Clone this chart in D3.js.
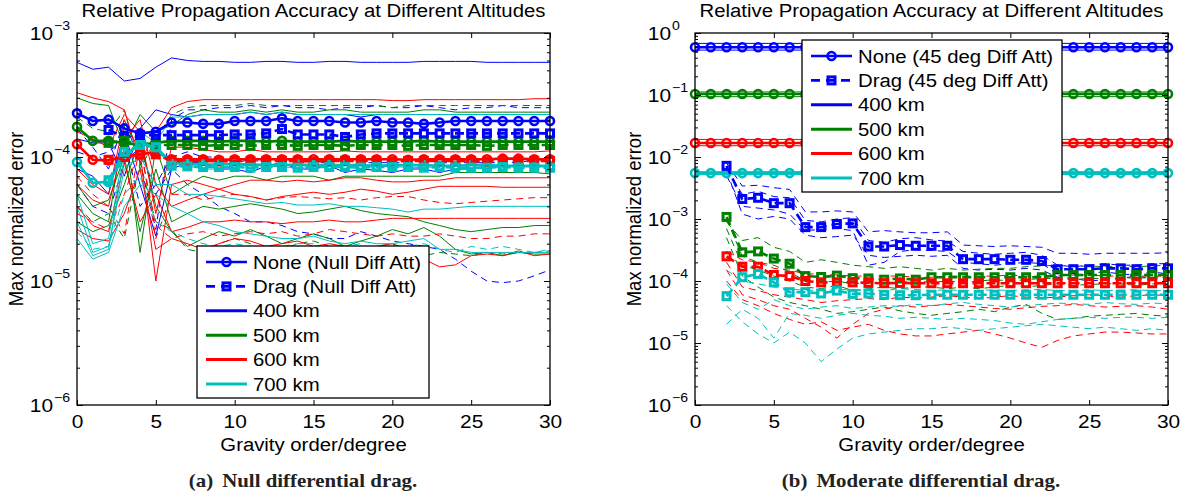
<!DOCTYPE html>
<html>
<head>
<meta charset="utf-8">
<script src="https://cdn.jsdelivr.net/npm/d3@7/dist/d3.min.js"></script>
<style>
  html, body { margin: 0; padding: 0; background: #fff; }
  svg { display: block; }
</style>
</head>
<body>
<svg id="fig" width="1186" height="496"></svg>
<script>
// ---------------------------------------------------------------
// Shared categories
// ---------------------------------------------------------------
const degrees = [0,1,2,3,4,5,6,7,8,9,10,11,12,13,14,15,16,17,18,19,20,21,22,23,24,25,26,27,28,29,30];
const xTicks = [0,5,10,15,20,25,30];
const altitudes = ["400 km","500 km","600 km","700 km"];
const altitudeColors = ["#0000ff","#008000","#ff0000","#00bfbf"];

// ---------------------------------------------------------------
// Panel (a): null differential attitude, values in units of 1e-5
// ---------------------------------------------------------------
const unitA = 1e-5;
const yTicksA = [1e-6,1e-5,1e-4,1e-3];

const noneA400 = [22.5,19.5,20,17,15.5,16, 19,19,18.5,18.5,19.5, 19.5,19.5,20.5,19.5,19.5, 19.5,19,19,19.5,19, 19,18.5,19,19.5,19.5, 19.5,19.5,19.5,19.5,19.5];
const noneA500 = [17.5,13.5,13.5,13,12.5,13, 13.5,13.5,13.5,13.3,13.5, 13.5,13.3,13.5,13.3,13.3, 13.3,13.5,13.3,13.3,13.3, 13.3,13.5,13.3,13.3,13.3, 13.3,13.3,13.3,13.3,13.3];
const noneA600 = [12.7,9.5,9.4,10,10.5,11, 9.6,9.6,9.6,9.5,9.6, 9.6,9.6,9.6,9.6,9.6, 9.6,9.6,9.6,9.6,9.6, 9.5,9.6,9.6,9.6,9.6, 9.6,9.7,9.7,9.6,9.6];
const noneA700 = [9.1,6.2,6.3,10,13,12, 9,8.8,8.7,8.7,8.8, 8.7,8.6,8.6,8.7,8.6, 8.6,8.6,8.6,8.5,8.6, 8.6,8.6,8.5,8.5,8.6, 8.6,8.5,8.5,8.5,8.5];

const dragA400 = [null,null,16.5,14.5,15,15, 15,15,15,15,15.2, 15.2,15.5,16.8,15.2,15.2, 15.2,14.5,15.2,15.5,15.5, 15.5,15.5,15.5,15.5,15.5, 15.5,15.5,15.5,15.5,15.5];
const dragA500 = [null,null,13,13.5,12.5,12.5, 12.5,12.5,12.3,12.5,12.5, 12.3,12.5,12.5,12.3,12.5, 12.5,12.3,12.5,12.5,12.5, 12.3,12.5,12.5,12.5,12.5, 12.3,12.5,12.5,12.5,12.5];
const dragA600 = [null,null,9.5,10,10.5,10.5, 9.3,9.3,9.3,9.2,9.3, 9.3,9.3,9.3,9.3,9.2, 9.3,9.3,9.3,9.3,9.2, 9.3,9.3,9.3,9.3,9.3, 9.2,9.3,9.3,9.3,9.3];
const dragA700 = [null,null,6.5,11,12.5,12, 8.5,8.4,8.3,8.3,8.3, 8.2,8.3,8.3,8.2,8.3, 8.3,8.3,8.2,8.3,8.3, 8.3,8.2,8.3,8.2,8.2, 8.2,8.3,8.2,8.2,8.2];

// individual runs, 400 km
const runA400a = [58,51,53,41,43,53, 63,60,59,59,58, 58,59,59,58,58, 59,59,58,58,58, 58,59,59,59,59, 58,58,58,58,58];
const runA400b = [17,12,8,20,9,2.6, 20,24,24,25,25, 26,25,26,25,25, 24,25,25,26,25, 25,26,25,24,25, 25,26,25,25,25];
const runA400c = [14,13,13,7,17,24, 22,21,22,22,22, 23,22,23,22,22, 22,22,21,22,22, 22,22,22,22,22, 22,22,22,22,22];
const runA400d = [8,7,5,16,6,2.3, 8,9,9,8,8, 7.5,8.5,9,8,8, 8.5,7.5,8,7.8,7.5, 8,8,7.5,8,8, 8.5,8.5,8.5,8.5,8.5];
const runA400e = [6,4,3.5,9,12,5, 8,6,5,4,3.5, 3,3,2.8,2.5,2.4, 2.2,2.2,2.5,2.3,2.1, 2.0,1.9,1.8,1.5,1.2, 1.0,0.97,1.0,1.1,1.23];
const runA400f = [11,10,11,14,4,6, 10,11,10,10,9, 9.5,9,10,9,9, 9,9.5,9,9,9, 9,9.5,9,9,9, 9,9,9,9.5,9.5];
// individual runs, 500 km
const runA500a = [30,27,26,12,22,16, 18,22,24,23,23, 24,23,24,23,23, 24,24,23,23,23, 23,24,24,23,23, 23,23,23,23,23];
const runA500b = [21,17,16,24,8,14, 22,25,26,26,26, 27,26,26,26,26, 26,26,26,26,25, 26,26,26,26,26, 26,26,26,26,26];
const runA500c = [5,3.5,3,18,1.7,12, 5,6,7,6.5,7, 7,6.5,7,7,7, 6.5,7,7,7,7, 7,7,7,7.5,7.5, 7.5,7.5,7.5,7.5,7.3];
const runA500d = [3,2.5,2.8,6,14,4, 2.5,1.9,2.2,2.5,2.3, 2.6,2.3,2.0,2.2,2.4, 2.2,1.9,2.1,2.3,2.6, 2.4,2.7,2.3,1.8,1.65, 1.7,1.6,1.7,1.65,1.65];
const runA500e = [6,4,4.5,10,2.5,8, 3,3.5,4,3.8,4, 4.2,4,3.8,3.5,3.6, 3.8,4,3.7,3.5,3.4, 3.3,3.0,2.8,2.6,2.5, 2.6,2.7,2.7,2.8,2.8];
const runA500f = [4,3,3.5,2.2,9,3, 2.6,1.8,1.7,2.0,2.2, 2.0,1.7,1.8,2.0,2.1, 1.9,1.8,1.7,1.9,2.0, 1.8,1.6,1.7,1.65,1.6, 1.7,1.65,1.7,1.7,1.75];
// individual runs, 600 km
const runA600a = [33,30,28,24,9,16, 25,28,29,29,29, 29,29,29,29,29, 29,29,29,29,28.5, 28.5,29,29,29,29, 29,29,29,29.5,29.5];
const runA600b = [16,14,12,22,16,3.5, 12,12,11.5,11,11, 11.5,11,11,11,11, 11,11.2,11,11,11, 11,11,11,11,11, 11,11,11,11,11.2];
const runA600c = [8,6,5,20,11,1.0, 6,6.5,6,5.5,6, 6.5,6.5,6.3,6.5,6.3, 6.5,6.8,6.8,6.5,6.3, 6.3,6.5,6.5,6.8,6.8, 6.8,6.8,6.8,6.8,6.8];
const runA600d = [6,4.5,4,14,20,6, 4,4.5,5,5.5,5, 4.8,4.5,4.8,5.0,5.2, 5.0,5.2,5.5,5.3,5.0, 5.2,5.5,5.8,5.8,5.8, 5.8,5.7,5.7,5.7,5.7];
const runA600e = [7,5,4,2.4,13,2.2, 5,5,4.5,4.8,5, 4.8,4.5,4.7,4.8,4.7, 4.6,4.7,4.5,4.7,4.8, 4.8,4.5,4.3,4.2,4.3, 4.4,4.5,4.6,4.7,4.7];
const runA600f = [4,2.8,2.5,9,3,5, 2.5,2.7,3,3,3.1, 3.0,3.0,2.9,3.0,3.0, 3.1,3.0,3.0,3.1,3.2, 3.2,3.2,3.2,3.2,3.2, 3.2,3.2,3.2,3.2,3.2];
const runA600g = [3.5,3,2.6,5,12,2.8, 2.2,2.4,2.5,2.3,2.4, 2.5,2.4,2.5,2.3,2.4, 2.6,2.5,2.4,2.3,2.4, 2.3,2.3,2.4,2.3,2.2, 2.2,2.3,2.3,2.4,2.4];
const runA600h = [2.6,2.2,2.1,3.5,8,1.8, 2.2,2.0,1.8,2.0,2.2, 2.1,1.9,2.0,2.1,1.9, 2.0,1.9,1.7,1.9,2.0, 1.6,1.5,1.3,1.35,1.6, 1.65,1.6,1.75,1.6,1.65];
// individual runs, 700 km
const runA700a = [5,2,2.2,12,16,13, 21,21,22,22,22, 23,22,23,22,22, 22,22,22,22,22, 22,22,22,22,22, 22,22,22,22,22];
const runA700b = [4,1.7,1.9,8,10,6, 6,5,5,4.8,4.6, 4.4,4.2,4.3,4.1,4.1, 4.2,4.0,4.0,3.9,3.8, 3.6,3.8,3.8,3.9,4.0, 4.0,4.0,4.0,4.0,4.0];
const runA700c = [3,1.6,1.8,10,14,12, 9,8.5,8,8,8.5, 8.5,8.5,8.3,8.2,8.4, 8.4,8.6,8.5,8.5,8.3, 8.3,8.2,8.4,8.4,8.2, 8.2,8.3,8.3,8.3,8.3];
const runA700d = [2.5,1.8,1.9,5,7,3, 2.5,2.2,2.0,1.9,2.0, 1.9,1.8,1.9,2.0,2.0, 1.8,1.9,2.0,1.7,1.8, 1.9,2.0,1.8,1.7,1.9, 1.8,1.9,1.8,1.7,1.8];
const runA700e = [2.2,1.5,1.7,4,6,5, 4,3.5,3.0,2.8,2.5, 2.4,2.3,2.2,2.2,2.3, 2.1,2.0,2.1,2.0,2.0, 2.1,2.2,1.8,1.8,1.7, 1.7,1.7,1.7,1.7,1.7];

// ---------------------------------------------------------------
// Panel (b): 45 deg differential attitude
// ---------------------------------------------------------------
const unitB = 1e-5;
const yTicksB = [1e-6,1e-5,1e-4,1e-3,1e-2,1e-1,1];

// "None" cases are flat across all degrees (absolute values)
const noneB = [0.59, 0.104, 0.0168, 0.0055];
const noneBHigh = [0.68, 0.112, 0.0192, 0.0058];
const noneBLow = [0.53, 0.094, 0.0152, 0.0052];

// "Drag" cases, units of 1e-5
const dragB400 = [null,null,720,210,220,180,180, 74,74,83,85, 36,36,38,37, 37,37, 22.5,22.5,22.5,22,22,21, 15.5,15.5,15.5,16,16,15.5,16,16];
const dragB500 = [null,null,108,29,30,23,19, 12,11.6,12.2,11.1, 11,10.5,11,10.5, 11.5,11.5,11.5,11.5,11.5,11.5,11.5,11.5, 12.5,12.5,12.5,12.5,12.5,12.5,12.5,12.5];
const dragB600 = [null,null,25,17,17,12.5,12, 10,9.5,9.5,9.5, 9.3,9.2,9.3,9.2, 9.2,9.2,9.2,9.2,9.2,9.2,9.2,9.2, 9.2,9.2,9.2,9.2,9.2,9.2,9.2,9.2];
const dragB700 = [null,null,5.7,11.5,13,9.5,6.6, 6.6,6.3,7.0,6.2, 6.3,6.0,5.9,5.9, 6.0,6.0,6.0,6.0,6.0,6.0,6.0,6.0, 6.0,6.0,6.0,6.0,6.0,6.0,6.0,6.0];

// individual drag runs, units of 1e-5
const runB400a = [null,null,800,340,350,320,300, 130,130,135,130, 62,65,62,60, 60,62, 38,37,36,37,36,35, 28,28,27,28,28,28,28,28.5];
const runB400b = [null,null,600,120,100,110,100, 55,50,52,55, 26,24,25,26, 25,26, 16,15,15.5,15,16,15, 11.5,11,10,10.5,11,12,11,11.5];
const runB400c = [null,null,500,160,150,140,120, 65,68,70,65, 18,20,30,32, 31,30, 20,19,18,19,20,19, 13,12,13.5,14,13,12.5,14,13];
const runB400d = [null,null,650,250,280,230,220, 95,90,100,105, 45,42,48,50, 46,44, 30,28,27,28,29,26, 18,17,18,19,18,18,19,19];
const runB500a = [null,null,90,45,50,35,30, 20,22,20,18, 17,16,17,16, 15,16,15,15.5,16,16,17,17.5, 18,17,17.5,17,17.5,17,17.5,18];
const runB500b = [null,null,70,18,15,12,10, 8,7.5,8.5,7, 7.5,8,7.5,8, 8,7.5,8,7.5,8,8.5,8,8.5, 9,8.5,8.8,9,9,8.5,9,9];
const runB500c = [null,null,50,12,8,5.5,4.5, 4,3.5,3,3.2, 3.5,3.8,3.3,3.0, 2.8,3.0,3.2,3.5,3.2,3.8,4.2,3.0, 2.4,2.5,2.7,2.8,2.9,3.0,2.8,2.7];
const runB500d = [null,null,100,25,20,18,14, 10,9.5,10,9, 9.5,9,9.5,10, 9.5,10,9.5,10,10.5,10,10.5,11, 11,10.5,11,11,11.5,11,11.5,11.5];
const runB600a = [null,null,30,22,20,16,15, 13,13,12.5,12, 12,12,12,11.5, 11.5,12,12,12,12,12.5,12,12, 12,12.5,12.5,12,12,12,12,12];
const runB600b = [null,null,15,6,5,4,3.5, 2.5,1.8,1.2,2.0, 3.0,3.5,4.0,3.8, 4.0,4.2,4.0,3.8,3.6,3.5,3.7,3.9, 4.0,4.2,4.0,3.8,3.9,4.0,3.8,3.5];
const runB600c = [null,null,10,5,4,3,2.4, 2.0,2.2,1.6,1.8, 2.0,1.6,1.4,1.3, 1.3,1.4,1.5,1.6,1.4,1.2,1.0,0.85, 1.1,1.3,1.4,1.5,1.5,1.45,1.4,1.4];
const runB600d = [null,null,20,8,7,6,5.5, 5,4.5,4.8,5, 5.2,5,5.5,5.3, 5.5,5.8,5.5,5.2,5.5,5.8,5.5,5.3, 5.5,5.8,6,5.8,5.5,5.8,6,5.8];
const runB700a = [null,null,15,10,9,8,7.5, 7,7.2,7.5,7, 7.2,7,7.5,7.3, 7,7.2,7,7,7.2,7,7.2,7.3, 7,7,7.2,7,7.1,7.2,7,7];
const runB700b = [null,null,2.0,3.5,2.5,1.2,3.0, 2.8,2.5,2.8,3.0, 2.8,2.7,2.5,2.6, 2.5,2.4,2.5,2.4,2.3,2.1,2.0,2.2, 2.4,2.5,2.6,2.5,2.6,2.6,2.5,2.6];
const runB700c = [null,null,4,2.2,1.4,1.0,1.5, 1.0,0.5,0.8,1.2, 1.4,1.5,1.6,1.7, 1.7,1.8,1.7,1.6,1.7,1.8,1.9,2.0, 1.9,1.8,1.7,1.8,1.7,1.6,1.7,1.6];
const runB700d = [null,null,9,4.5,3.5,5,4, 3.5,3.8,4,3.6, 3.8,4,3.9,4.2, 4,4.3,4.5,4.2,4,3.8,4,4.2, 4.4,4.3,4.2,4.5,4.3,4.2,4.4,4.3];

// ---------------------------------------------------------------
// Drawing
// ---------------------------------------------------------------
const SANS = '"Liberation Sans", Arial, Helvetica, sans-serif';
const SERIF = '"Liberation Serif", "Times New Roman", serif';
const SX = 1.13;          // horizontal text stretch of the exported figure
const TOP = 33, BOTTOM = 405;

const svg = d3.select("#fig");

function stext(parent, x, y, str, o) {
  const t = parent.append("text")
    .attr("transform", `translate(${x},${y}) scale(${SX},1)` + (o.rotate ? ` rotate(${o.rotate})` : ""))
    .attr("font-family", o.family || SANS)
    .attr("font-size", o.size)
    .attr("text-anchor", o.anchor || "start")
    .attr("fill", "#000")
    .text(str);
  if (o.weight) t.attr("font-weight", o.weight);
  return t;
}

const panels = [
  {
    x0: 77, x1: 550, yTicks: yTicksA, unit: unitA,
    title: "Relative Propagation Accuracy at Different Altitudes",
    caption: ["(a)", "Null differential drag."], captionX: 303,
    runs: [
      [0, false, runA400a], [0, true, runA400b], [0, false, runA400c], [0, false, runA400d], [0, true, runA400e], [0, true, runA400f],
      [1, false, runA500a], [1, true, runA500b], [1, false, runA500c], [1, false, runA500d], [1, false, runA500e], [1, true, runA500f],
      [2, false, runA600a], [2, false, runA600b], [2, false, runA600c], [2, false, runA600d], [2, true, runA600e], [2, false, runA600f], [2, true, runA600g], [2, false, runA600h],
      [3, false, runA700a], [3, false, runA700b], [3, false, runA700c], [3, true, runA700d], [3, false, runA700e]
    ],
    none: [noneA400, noneA500, noneA600, noneA700],
    drag: [dragA400, dragA500, dragA600, dragA700],
    legend: { x: 197, y: 246, w: 232, h: 152,
      labels: ["None (Null Diff Att)", "Drag (Null Diff Att)"] }
  },
  {
    x0: 695, x1: 1168, yTicks: yTicksB, unit: unitB,
    title: "Relative Propagation Accuracy at Different Altitudes",
    caption: ["(b)", "Moderate differential drag."], captionX: 921,
    runs: [
      [0, true, runB400a], [0, true, runB400b], [0, true, runB400c], [0, true, runB400d],
      [1, true, runB500a], [1, true, runB500b], [1, true, runB500c], [1, true, runB500d],
      [2, true, runB600a], [2, true, runB600b], [2, true, runB600c], [2, true, runB600d],
      [3, true, runB700a], [3, true, runB700b], [3, true, runB700c], [3, true, runB700d]
    ],
    noneLevels: noneB, noneHigh: noneBHigh, noneLow: noneBLow,
    drag: [dragB400, dragB500, dragB600, dragB700],
    legend: { x: 802, y: 40, w: 260, h: 152,
      labels: ["None (45 deg Diff Att)", "Drag (45 deg Diff Att)"] }
  }
];

function drawCircle(g, cx, cy, color) {
  g.append("circle").attr("cx", cx).attr("cy", cy).attr("r", 4)
    .attr("fill", "none").attr("stroke", color).attr("stroke-width", 2.6);
}
function drawSquare(g, cx, cy, color) {
  g.append("rect").attr("x", cx - 3.5).attr("y", cy - 3.5).attr("width", 7).attr("height", 7)
    .attr("fill", "none").attr("stroke", color).attr("stroke-width", 3);
}

panels.forEach(p => {
  const g = svg.append("g");
  const x = d3.scaleLinear().domain([0, 30]).range([p.x0, p.x1]);
  const y = d3.scaleLog().domain([p.yTicks[0], p.yTicks[p.yTicks.length - 1]]).range([BOTTOM, TOP]);
  const line = d3.line().defined(d => d.v != null).x(d => x(d.deg)).y(d => y(d.v));
  const pts = (vals, unit) => degrees.map((deg, k) => ({ deg, v: vals[k] == null ? null : vals[k] * unit }));

  // thin lines: individual runs
  p.runs.forEach(([c, dashed, vals]) => {
    g.append("path").datum(pts(vals, p.unit)).attr("d", line)
      .attr("fill", "none").attr("stroke", altitudeColors[c]).attr("stroke-width", 1)
      .attr("stroke-dasharray", dashed ? "7,5" : null);
  });

  // "None" cases
  if (p.none) {
    p.none.forEach((vals, c) => {
      const d = pts(vals, p.unit);
      g.append("path").datum(d).attr("d", line).attr("fill", "none")
        .attr("stroke", altitudeColors[c]).attr("stroke-width", 2.6);
      d.forEach(pt => drawCircle(g, x(pt.deg), y(pt.v), altitudeColors[c]));
    });
  } else {
    p.noneLevels.forEach((lvl, c) => {
      [p.noneHigh[c], p.noneLow[c]].forEach(v => {
        g.append("line").attr("x1", x(0)).attr("x2", x(30)).attr("y1", y(v)).attr("y2", y(v))
          .attr("stroke", altitudeColors[c]).attr("stroke-width", 1);
      });
      const d = degrees.map(deg => ({ deg, v: lvl }));
      g.append("path").datum(d).attr("d", line).attr("fill", "none")
        .attr("stroke", altitudeColors[c]).attr("stroke-width", 2.6);
      d.forEach(pt => drawCircle(g, x(pt.deg), y(pt.v), altitudeColors[c]));
    });
  }

  // "Drag" cases
  p.drag.forEach((vals, c) => {
    const d = pts(vals, p.unit);
    g.append("path").datum(d).attr("d", line).attr("fill", "none")
      .attr("stroke", altitudeColors[c]).attr("stroke-width", 2.6).attr("stroke-dasharray", "9,5");
    d.filter(pt => pt.v != null).forEach(pt => drawSquare(g, x(pt.deg), y(pt.v), altitudeColors[c]));
  });

  // axes box
  g.append("rect").attr("x", p.x0).attr("y", TOP).attr("width", p.x1 - p.x0).attr("height", BOTTOM - TOP)
    .attr("fill", "none").attr("stroke", "#000").attr("stroke-width", 1.3);

  const minors = [];
  p.yTicks.slice(0, -1).forEach(t => { for (let m = 2; m <= 9; m++) minors.push(t * m); });

  const styleAxis = a => {
    a.select(".domain").remove();
    a.selectAll("line").attr("stroke", "#000").attr("stroke-width", 1);
  };

  const xb = g.append("g").attr("transform", `translate(0,${BOTTOM})`)
    .call(d3.axisBottom(x).tickValues(xTicks).tickSizeInner(-5).tickSizeOuter(0).tickPadding(10).tickFormat(d3.format("d")));
  styleAxis(xb);
  xb.selectAll("text").attr("font-size", 18.5).attr("font-family", SANS).attr("fill", "#000")
    .attr("transform", `scale(${SX},1)`);

  const xt = g.append("g").attr("transform", `translate(0,${TOP})`)
    .call(d3.axisTop(x).tickValues(xTicks).tickSizeInner(-5).tickSizeOuter(0).tickFormat(""));
  styleAxis(xt);

  [[d3.axisLeft, p.x0], [d3.axisRight, p.x1]].forEach(([axisFn, pos]) => {
    const maj = g.append("g").attr("transform", `translate(${pos},0)`)
      .call(axisFn(y).tickValues(p.yTicks).tickSizeInner(-6).tickSizeOuter(0).tickFormat(""));
    styleAxis(maj);
    const mnr = g.append("g").attr("transform", `translate(${pos},0)`)
      .call(axisFn(y).tickValues(minors).tickSizeInner(-3).tickSizeOuter(0).tickFormat(""));
    styleAxis(mnr);
  });

  // y tick labels: 10^n
  p.yTicks.forEach(t => {
    const e = Math.round(Math.log10(t));
    const ty = y(t);
    stext(g, p.x0 - 24, ty + 7, "10", { size: 18.5, anchor: "end" });
    stext(g, p.x0 - 23, ty - 3, e < 0 ? "\u2212" + (-e) : String(e), { size: 12.5 });
  });

  const cx = (p.x0 + p.x1) / 2;
  stext(g, cx, 17, p.title, { size: 18, anchor: "middle" });
  stext(g, cx, 451, "Gravity order/degree", { size: 18, anchor: "middle" });
  stext(g, p.x0 - 54, (TOP + BOTTOM) / 2, "Max normalized error", { size: 18.5, anchor: "middle", rotate: -90 });

  // caption
  const cap = g.append("text")
    .attr("transform", `translate(${p.captionX},487) scale(${SX},1)`)
    .attr("font-family", SERIF).attr("font-size", 18.5).attr("font-weight", "bold")
    .attr("text-anchor", "middle").attr("fill", "#222");
  cap.append("tspan").text(p.caption[0]);
  cap.append("tspan").attr("dx", 8).text(p.caption[1]);

  // legend
  const L = p.legend;
  const lg = g.append("g");
  lg.append("rect").attr("x", L.x).attr("y", L.y).attr("width", L.w).attr("height", L.h)
    .attr("fill", "#fff").attr("stroke", "#000").attr("stroke-width", 1.3);
  const rowY = k => L.y + 16 + k * 24.4;
  const sx0 = L.x + 9, sx1 = L.x + 50, smid = (sx0 + sx1) / 2;
  // None entry
  lg.append("line").attr("x1", sx0).attr("x2", sx1).attr("y1", rowY(0)).attr("y2", rowY(0))
    .attr("stroke", altitudeColors[0]).attr("stroke-width", 2.6);
  drawCircle(lg, smid, rowY(0), altitudeColors[0]);
  // Drag entry
  lg.append("line").attr("x1", sx0).attr("x2", sx1).attr("y1", rowY(1)).attr("y2", rowY(1))
    .attr("stroke", altitudeColors[0]).attr("stroke-width", 2.6).attr("stroke-dasharray", "9,6");
  drawSquare(lg, smid, rowY(1), altitudeColors[0]);
  // altitude entries
  altitudes.forEach((a, k) => {
    lg.append("line").attr("x1", sx0).attr("x2", sx1).attr("y1", rowY(k + 2)).attr("y2", rowY(k + 2))
      .attr("stroke", altitudeColors[k]).attr("stroke-width", 3);
  });
  const labels = p.legend.labels.concat(altitudes);
  labels.forEach((s, k) => stext(lg, L.x + 56, rowY(k) + 6.5, s, { size: 18 }));
});
</script>
</body>
</html>
